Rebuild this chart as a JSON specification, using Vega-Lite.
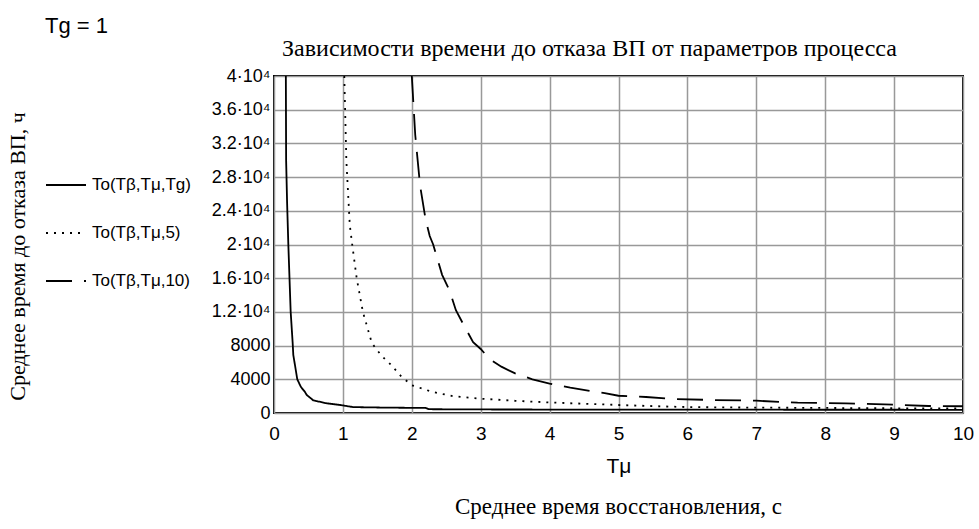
{
  "$schema": "https://vega.github.io/schema/vega-lite/v6.json",
  "width": 689,
  "height": 337,
  "autosize": {"type": "none"},
  "padding": {"left": 274, "top": 76, "right": 16, "bottom": 116},
  "background": "white",
  "title": {
    "text": "Среднее время восстановления, с",
    "orient": "bottom",
    "anchor": "middle",
    "font": "Liberation Serif",
    "fontSize": 23,
    "fontWeight": "normal",
    "color": "black",
    "offset": 20
  },
  "config": {
    "view": {"stroke": "black", "strokeWidth": 2},
    "axis": {"labelColor": "black", "titleColor": "black"}
  },
  "data": {
    "values": [
      {"s": "To(Tβ,Tμ,Tg)", "x": 0.172, "y": 40000},
      {"s": "To(Tβ,Tμ,Tg)", "x": 0.176, "y": 30000},
      {"s": "To(Tβ,Tμ,Tg)", "x": 0.19, "y": 25000},
      {"s": "To(Tβ,Tμ,Tg)", "x": 0.208, "y": 20000},
      {"s": "To(Tβ,Tμ,Tg)", "x": 0.242, "y": 12000},
      {"s": "To(Tβ,Tμ,Tg)", "x": 0.271, "y": 8300},
      {"s": "To(Tβ,Tμ,Tg)", "x": 0.28, "y": 6900},
      {"s": "To(Tβ,Tμ,Tg)", "x": 0.338, "y": 4000},
      {"s": "To(Tβ,Tμ,Tg)", "x": 0.39, "y": 3100},
      {"s": "To(Tβ,Tμ,Tg)", "x": 0.45, "y": 2490},
      {"s": "To(Tβ,Tμ,Tg)", "x": 0.475, "y": 2140},
      {"s": "To(Tβ,Tμ,Tg)", "x": 0.57, "y": 1500},
      {"s": "To(Tβ,Tμ,Tg)", "x": 0.624, "y": 1400},
      {"s": "To(Tβ,Tμ,Tg)", "x": 0.765, "y": 1150},
      {"s": "To(Tβ,Tμ,Tg)", "x": 0.96, "y": 950},
      {"s": "To(Tβ,Tμ,Tg)", "x": 1.15, "y": 700},
      {"s": "To(Tβ,Tμ,Tg)", "x": 1.6, "y": 640},
      {"s": "To(Tβ,Tμ,Tg)", "x": 2.2, "y": 600},
      {"s": "To(Tβ,Tμ,Tg)", "x": 2.25, "y": 450},
      {"s": "To(Tβ,Tμ,Tg)", "x": 3, "y": 420},
      {"s": "To(Tβ,Tμ,Tg)", "x": 5, "y": 400},
      {"s": "To(Tβ,Tμ,Tg)", "x": 7, "y": 390},
      {"s": "To(Tβ,Tμ,Tg)", "x": 10, "y": 380},
      {"s": "To(Tβ,Tμ,5)", "x": 1.02, "y": 40000},
      {"s": "To(Tβ,Tμ,5)", "x": 1.05, "y": 30000},
      {"s": "To(Tβ,Tμ,5)", "x": 1.1, "y": 22300},
      {"s": "To(Tβ,Tμ,5)", "x": 1.135, "y": 20000},
      {"s": "To(Tβ,Tμ,5)", "x": 1.2, "y": 16000},
      {"s": "To(Tβ,Tμ,5)", "x": 1.29, "y": 12000},
      {"s": "To(Tβ,Tμ,5)", "x": 1.42, "y": 8300},
      {"s": "To(Tβ,Tμ,5)", "x": 1.56, "y": 6800},
      {"s": "To(Tβ,Tμ,5)", "x": 1.7, "y": 5700},
      {"s": "To(Tβ,Tμ,5)", "x": 1.85, "y": 4300},
      {"s": "To(Tβ,Tμ,5)", "x": 2.0, "y": 3300},
      {"s": "To(Tβ,Tμ,5)", "x": 2.3, "y": 2500},
      {"s": "To(Tβ,Tμ,5)", "x": 2.6, "y": 2000},
      {"s": "To(Tβ,Tμ,5)", "x": 3.0, "y": 1700},
      {"s": "To(Tβ,Tμ,5)", "x": 3.5, "y": 1450},
      {"s": "To(Tβ,Tμ,5)", "x": 4.0, "y": 1250},
      {"s": "To(Tβ,Tμ,5)", "x": 4.5, "y": 1100},
      {"s": "To(Tβ,Tμ,5)", "x": 5.0, "y": 950},
      {"s": "To(Tβ,Tμ,5)", "x": 5.5, "y": 820},
      {"s": "To(Tβ,Tμ,5)", "x": 6.0, "y": 700},
      {"s": "To(Tβ,Tμ,5)", "x": 7.0, "y": 640},
      {"s": "To(Tβ,Tμ,5)", "x": 8.0, "y": 600},
      {"s": "To(Tβ,Tμ,5)", "x": 9.0, "y": 560},
      {"s": "To(Tβ,Tμ,5)", "x": 10.0, "y": 530},
      {"s": "To(Tβ,Tμ,10)", "x": 2.0, "y": 40000},
      {"s": "To(Tβ,Tμ,10)", "x": 2.05, "y": 33000},
      {"s": "To(Tβ,Tμ,10)", "x": 2.12, "y": 27000},
      {"s": "To(Tβ,Tμ,10)", "x": 2.2, "y": 23000},
      {"s": "To(Tβ,Tμ,10)", "x": 2.26, "y": 21000},
      {"s": "To(Tβ,Tμ,10)", "x": 2.31, "y": 20000},
      {"s": "To(Tβ,Tμ,10)", "x": 2.44, "y": 16400},
      {"s": "To(Tβ,Tμ,10)", "x": 2.55, "y": 14500},
      {"s": "To(Tβ,Tμ,10)", "x": 2.64, "y": 12200},
      {"s": "To(Tβ,Tμ,10)", "x": 2.75, "y": 10500},
      {"s": "To(Tβ,Tμ,10)", "x": 2.89, "y": 8400},
      {"s": "To(Tβ,Tμ,10)", "x": 3.0, "y": 7600},
      {"s": "To(Tβ,Tμ,10)", "x": 3.13, "y": 6400},
      {"s": "To(Tβ,Tμ,10)", "x": 3.3, "y": 5500},
      {"s": "To(Tβ,Tμ,10)", "x": 3.5, "y": 4700},
      {"s": "To(Tβ,Tμ,10)", "x": 3.75, "y": 4000},
      {"s": "To(Tβ,Tμ,10)", "x": 4.0, "y": 3500},
      {"s": "To(Tβ,Tμ,10)", "x": 4.3, "y": 3000},
      {"s": "To(Tβ,Tμ,10)", "x": 4.6, "y": 2600},
      {"s": "To(Tβ,Tμ,10)", "x": 4.8, "y": 2370},
      {"s": "To(Tβ,Tμ,10)", "x": 5.0, "y": 2050},
      {"s": "To(Tβ,Tμ,10)", "x": 5.4, "y": 1900},
      {"s": "To(Tβ,Tμ,10)", "x": 5.8, "y": 1660},
      {"s": "To(Tβ,Tμ,10)", "x": 6.4, "y": 1540},
      {"s": "To(Tβ,Tμ,10)", "x": 7.0, "y": 1460},
      {"s": "To(Tβ,Tμ,10)", "x": 7.6, "y": 1220},
      {"s": "To(Tβ,Tμ,10)", "x": 8.3, "y": 1150},
      {"s": "To(Tβ,Tμ,10)", "x": 9.0, "y": 1000},
      {"s": "To(Tβ,Tμ,10)", "x": 9.5, "y": 830},
      {"s": "To(Tβ,Tμ,10)", "x": 10.0, "y": 800}
    ]
  },
  "layer": [
    {
      "transform": [{"filter": {"field": "s", "oneOf": ["To(Tβ,Tμ,Tg)", "To(Tβ,Tμ,5)"]}}],
      "mark": {"type": "line", "color": "black", "strokeWidth": 1.8, "clip": true},
      "encoding": {
        "x": {
          "field": "x", "type": "quantitative",
          "scale": {"domain": [0, 10], "nice": false, "zero": false},
          "axis": {
            "orient": "bottom",
            "values": [0, 1, 2, 3, 4, 5, 6, 7, 8, 9, 10], "tickCount": 11,
            "grid": true, "gridColor": "#999999", "gridWidth": 1.5, "gridOpacity": 1,
            "ticks": false, "domain": false, "labelOverlap": false,
            "labelFont": "Liberation Sans", "labelFontSize": 19, "labelPadding": 11, "labelFlush": false,
            "title": "Tμ", "titleFont": "Liberation Sans", "titleFontSize": 21, "titleFontWeight": "normal",
            "titleY": 53, "titleBaseline": "middle"
          }
        },
        "y": {
          "field": "y", "type": "quantitative",
          "scale": {"domain": [0, 40000], "nice": false},
          "axis": {
            "values": [0, 4000, 8000, 12000, 16000, 20000, 24000, 28000, 32000, 36000, 40000], "tickCount": 11,
            "labelExpr": "datum.value == 0 ? '0' : (datum.value < 10000 ? format(datum.value, 'd') : format(datum.value / 10000, '.1~f') + '·10⁴')",
            "labelOverlap": false,
            "grid": true, "gridColor": "#999999", "gridWidth": 1.5, "gridOpacity": 1,
            "ticks": false, "domain": false,
            "labelFont": "Liberation Sans", "labelFontSize": 18, "labelPadding": 4,
            "title": "Среднее время до отказа ВП, ч", "titleFont": "Liberation Serif", "titleFontSize": 22, "titleFontWeight": "normal",
            "titleX": -257, "titleY": 180, "titleAngle": -90, "titleAlign": "center", "titleBaseline": "middle"
          }
        },
        "strokeDash": {
          "field": "s", "type": "nominal",
          "scale": {"domain": ["To(Tβ,Tμ,Tg)", "To(Tβ,Tμ,5)", "To(Tβ,Tμ,10)"], "range": [[1, 0], [2, 6], [26, 12]]},
          "legend": {
            "orient": "none", "legendX": -229, "legendY": -60, "padding": 0,
            "title": "Tg = 1", "titleFont": "Liberation Sans", "titleFontSize": 22, "titleFontWeight": "normal", "titleColor": "black",
            "titlePadding": 126,
            "labelFont": "Liberation Sans", "labelFontSize": 17, "labelColor": "black", "labelOffset": 5,
            "symbolType": "stroke", "symbolSize": 1600, "symbolStrokeWidth": 1.8, "symbolStrokeColor": "black",
            "rowPadding": 19
          }
        }
      }
    },
    {
      "transform": [{"filter": {"field": "s", "equal": "To(Tβ,Tμ,10)"}}],
      "mark": {"type": "line", "color": "black", "strokeWidth": 1.8, "clip": true},
      "encoding": {
        "x": {
          "field": "x", "type": "quantitative",
          "scale": {"domain": [0, 10], "nice": false, "zero": false},
          "axis": {
            "orient": "top", "labels": false, "ticks": false, "domain": false, "grid": false,
            "title": "Зависимости  времени до отказа ВП от параметров процесса",
            "titleFont": "Liberation Serif", "titleFontSize": 24, "titleFontWeight": "normal",
            "titleX": 315, "titleY": -21, "titleAlign": "center", "titleBaseline": "alphabetic"
          }
        },
        "y": {"field": "y", "type": "quantitative", "scale": {"domain": [0, 40000], "nice": false}},
        "strokeDash": {
          "field": "s", "type": "nominal",
          "scale": {"domain": ["To(Tβ,Tμ,Tg)", "To(Tβ,Tμ,5)", "To(Tβ,Tμ,10)"], "range": [[1, 0], [2, 6], [26, 12]]}
        }
      }
    }
  ],
  "resolve": {"axis": {"x": "independent"}}
}
